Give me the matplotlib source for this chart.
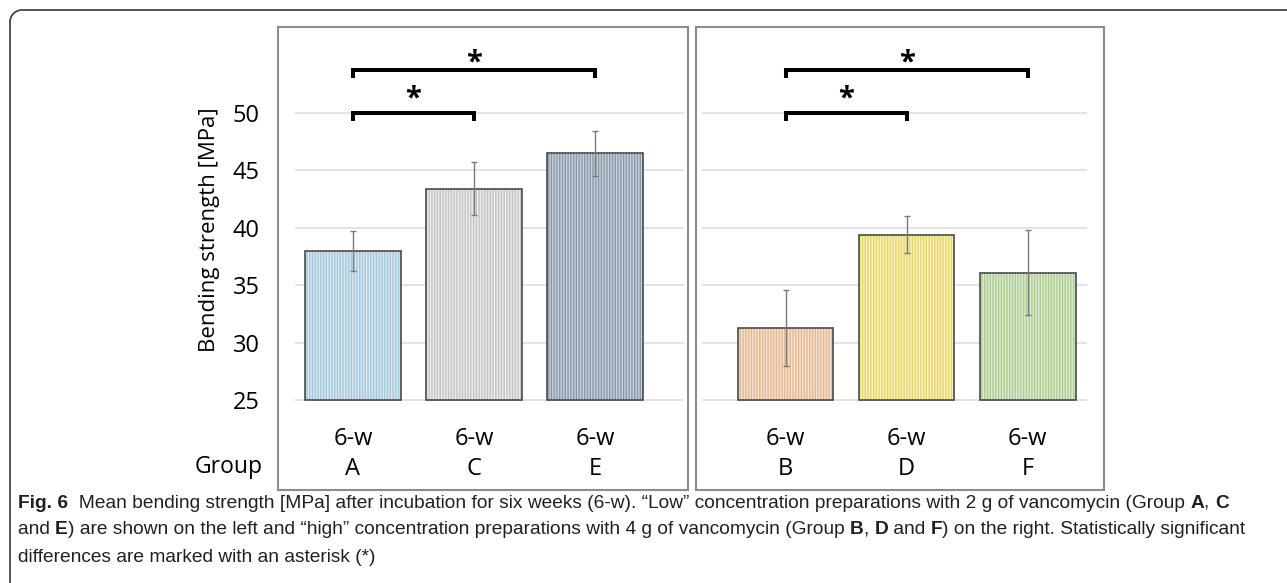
import numpy as np
import matplotlib
import matplotlib.pyplot as plt
from matplotlib import font_manager
from matplotlib.lines import Line2D

matplotlib.use('Agg')

# "low" concentration (2 g vancomycin), left panel
groups_low = ['A', 'C', 'E']
means_low = [38.0, 43.4, 46.5]
errors_low = [1.75, 2.3, 1.95]

# "high" concentration (4 g vancomycin), right panel
groups_high = ['B', 'D', 'F']
means_high = [31.3, 39.4, 36.1]
errors_high = [3.3, 1.6, 3.7]

time_label = '6-w'
y_ticks = [25, 30, 35, 40, 45, 50]
# significant differences, as pairs of bar indices
pairs_low = [(0, 1), (0, 2)]
pairs_high = [(0, 1), (0, 2)]

fills_low = ['#d6e8f1', '#ebebeb', '#c9d2dc']
stripes_low = ['#a6c8d9', '#c4c4c4', '#8797a9']
fills_high = ['#f9e1cc', '#faf2b8', '#deedd0']
stripes_high = ['#e0b894', '#e4d572', '#abcb92']

caption_lines = [
    [('Fig. 6', True),
     ('  Mean bending strength [MPa] after incubation for six weeks (6-w). \u201cLow\u201d concentration '
      'preparations with 2 g of vancomycin (Group ', False),
     ('A', True), (', ', False), ('C', True)],
    [('and ', False), ('E', True),
     (') are shown on the left and \u201chigh\u201d concentration preparations with 4 g of vancomycin (Group ', False),
     ('B', True), (', ', False), ('D', True), (' and ', False), ('F', True),
     (') on the right. Statistically significant', False)],
    [('differences are marked with an asterisk (*)', False)],
]

BASE = 25
FIG_W, FIG_H = 1287, 583


def px(x, y):
    # pixel position (from top-left) -> figure fraction
    return x / FIG_W, 1 - y / FIG_H


def draw_panel(ax, groups, means, errors, fills, stripes, pairs, xlim, grid_span):
    ax.set_xlim(*xlim)
    ax.set_ylim(17.16, 57.49)
    x = list(range(len(groups)))
    heights = [m - BASE for m in means]

    ax.hlines(y_ticks, grid_span[0], grid_span[1], color='#dedede', linewidth=1.2, zorder=0)
    ax.bar(x, heights, bottom=BASE, width=0.79, color=fills, edgecolor=stripes,
           hatch='||||||', linewidth=0, zorder=2)
    ax.bar(x, heights, bottom=BASE, width=0.79, facecolor='none',
           edgecolor='#4a4a4a', linewidth=1.2, zorder=3)
    ax.errorbar(x, means, yerr=errors, fmt='none', ecolor='#7a7a7a',
                elinewidth=1, capsize=2.5, capthick=1, zorder=4)

    for i, g in enumerate(groups):
        ax.text(i, 21.6, time_label, ha='center', va='center', fontsize=17)
        ax.text(i, 19.0, g, ha='center', va='center', fontsize=17)

    levels = [50.0, 53.75]
    star_y = [51.2, 54.4]
    for k, (a, b) in enumerate(pairs):
        lv = levels[k]
        ax.plot([a, a, b, b], [lv - 0.7, lv, lv, lv - 0.7], color='black', linewidth=2.9,
                solid_joinstyle='miter', solid_capstyle='butt', zorder=5)
        ax.text((a + b) / 2, star_y[k], '*', ha='center', va='center', fontsize=21,
                fontweight='bold', zorder=5)

    ax.set_xticks([])
    for s in ax.spines.values():
        s.set_color('#8c8c8c')
        s.set_linewidth(1.5)


def draw_caption(fig, x0, y_first, gap, family):
    renderer = fig.canvas.get_renderer()

    def put(size, row, dry=False):
        x = x0
        made = []
        for text, bold in caption_lines[row]:
            t = fig.text(x, y_first - row * gap, text, fontsize=size, family=family,
                         weight='bold' if bold else 'normal', ha='left', va='center',
                         color='#231f20')
            x += t.get_window_extent(renderer).width / fig.bbox.width
            made.append(t)
        if dry:
            for t in made:
                t.remove()
        return x - x0

    # fit the two long lines to the widths seen in the reference
    size = min(10 * (1255 / FIG_W) / put(10, 0, dry=True),
               10 * (1234 / FIG_W) / put(10, 1, dry=True))
    for row in range(len(caption_lines)):
        put(size, row)


def main() -> None:
    plt.rcParams['font.family'] = ['Open Sans', 'DejaVu Sans']
    plt.rcParams['hatch.linewidth'] = 1.0

    fig = plt.figure(figsize=(FIG_W / 100, FIG_H / 100), dpi=100)

    # open frame: left and top edges with a rounded corner
    r = 12
    t = np.linspace(np.pi, np.pi / 2, 20)
    fx = [10] + list(10 + r + r * np.cos(t)) + [FIG_W]
    fy = [FIG_H] + list(10 + r - r * np.sin(t)) + [10]
    fx, fy = zip(*[px(a, b) for a, b in zip(fx, fy)])
    fig.lines.append(Line2D(fx, fy, transform=fig.transFigure, color='#444444', linewidth=1.3))

    ax1 = fig.add_axes([278 / FIG_W, 93 / FIG_H, 410 / FIG_W, 463 / FIG_H])
    ax2 = fig.add_axes([696 / FIG_W, 93 / FIG_H, 408 / FIG_W, 463 / FIG_H])

    draw_panel(ax1, groups_low, means_low, errors_low, fills_low, stripes_low, pairs_low,
               (-0.62, 2.77), (-0.48, 2.74))
    draw_panel(ax2, groups_high, means_high, errors_high, fills_high, stripes_high, pairs_high,
               (-0.74, 2.63), (-0.69, 2.49))

    ax1.set_yticks(y_ticks)
    ax1.tick_params(axis='y', length=0, pad=13, labelsize=17)
    ax2.set_yticks([])

    fig.text(*px(210, 230), 'Bending strength [MPa]', rotation=90, ha='center', va='center',
             fontsize=16)
    fig.text(*px(263, 467), 'Group', ha='right', va='center', fontsize=16.5)

    names = {f.name for f in font_manager.fontManager.ttflist}
    cap_font = 'Liberation Sans Narrow' if 'Liberation Sans Narrow' in names else 'Liberation Sans'
    draw_caption(fig, 18 / FIG_W, 1 - 503 / FIG_H, 27 / FIG_H, cap_font)

    fig.savefig('out.png', dpi=100)


if __name__ == '__main__':
    main()
